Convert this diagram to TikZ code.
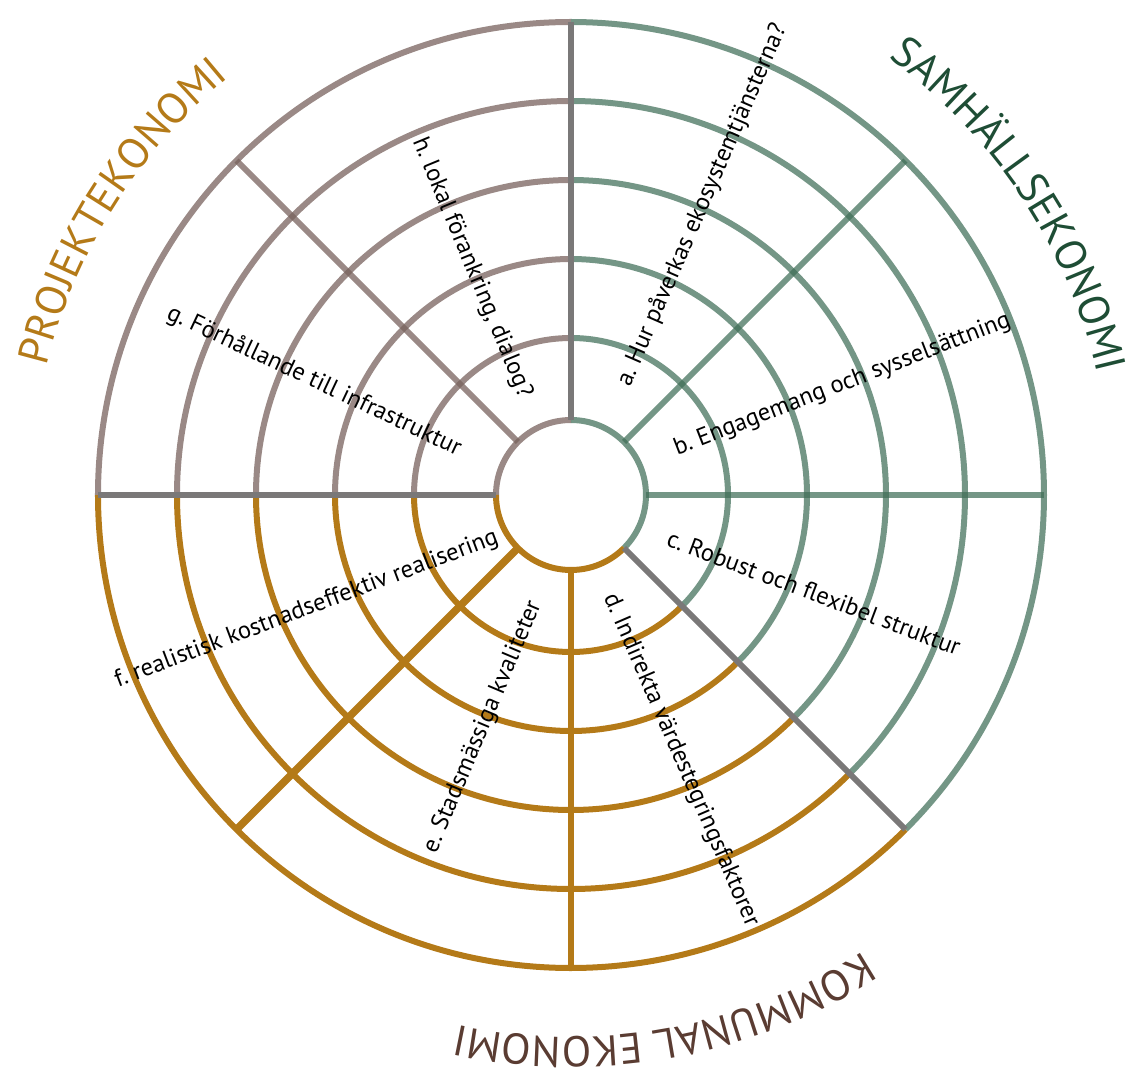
\documentclass[tikz,border=0pt]{standalone}
\usepackage{fontspec}
\setmainfont{PT Sans}
\usetikzlibrary{decorations.text}
\frenchspacing

\definecolor{samgreen}{HTML}{3F6E57}
\definecolor{projmauve}{HTML}{78625D}
\definecolor{komgold}{HTML}{B47A18}
\definecolor{seamgray}{HTML}{7A7878}
\definecolor{samtitle}{HTML}{1E4D35}
\definecolor{komtitle}{HTML}{5A3C32}

\newcommand{\rubrikfont}{\fontsize{43}{47}\selectfont}

\tikzset{
  ring/.style={line width=6pt},
  sam/.style={ring,draw=samgreen,draw opacity=0.72},
  proj/.style={ring,draw=projmauve,draw opacity=0.75},
  kom/.style={ring,draw=komgold},
  seam/.style={ring,draw=seamgray},
  fraga/.style={font=\fontsize{24.5}{28}\selectfont,inner sep=0pt}
}

\begin{document}
\begin{tikzpicture}[x=1pt,y=1pt,line cap=butt]
	\useasboundingbox (-571,-584) rectangle (567,495);
	\foreach \r in {75,157,236,315,394,473}
	{
		\draw[sam] (-45:\r) arc[start angle=-45,end angle=90,radius=\r];
		\draw[proj] (90:\r) arc[start angle=90,end angle=180,radius=\r];
		\draw[kom] (180:\r) arc[start angle=180,end angle=315,radius=\r];
	}
	\foreach \a/\s in {45/sam,0/sam,135/proj,270/kom,90/seam,180/seam,315/seam}
	{
		\draw[\s] (\a:75) -- (\a:473);
	}
	\draw[kom,line width=7.5pt] (225:75) -- (225:473);
	
	\node[fraga,rotate=66.5] (fa) at (65.6:318) {a. Hur påverkas ekosystemtjänsterna?};
	\node[fraga,rotate=21.2] (fb) at (22.1:293) {b. Engagemang och sysselsättning};
	\node[fraga,rotate=-20.7] (fc) at (-21.9:262) {c. Robust och flexibel struktur};
	\node[fraga,rotate=-66.6] (fd) at (-67.5:287) {d. Indirekta värdestegringsfaktorer};
	\node[fraga,rotate=67.2] (fe) at (-110.8:248) {e. Stadsmässiga kvaliteter};
	\node[fraga,rotate=20.7] (ff) at (-156.6:288) {f. realistisk kostnadseffektiv realisering};
	\node[fraga,rotate=-25.3] (fg) at (156.1:281) {g. Förhållande till infrastruktur};
	\node[fraga,rotate=-67.5] (fh) at (113.6:248) {h. lokal förankring, dialog?};
	
	\path[decorate,decoration={text along path,text align=center,text color=komgold,
		text={|\rubrikfont|PROJEKTEKONOMI}}] (187.8:540) arc[start angle=187.8,end angle=107.8,radius=540];
	\path[decorate,decoration={text along path,text align=center,text color=samtitle,
		text={|\rubrikfont|SAMHÄLLSEKONOMI}}] (73.5:540) arc[start angle=73.5,end angle=-6.5,radius=540];
	\path[decorate,decoration={text along path,text align=center,text color=komtitle,
		text={|\rubrikfont|KOMMUNAL EKONOMI}}] (-39.7:542) arc[start angle=-39.7,end angle=-119.7,radius=542];
\end{tikzpicture}
\end{document}
